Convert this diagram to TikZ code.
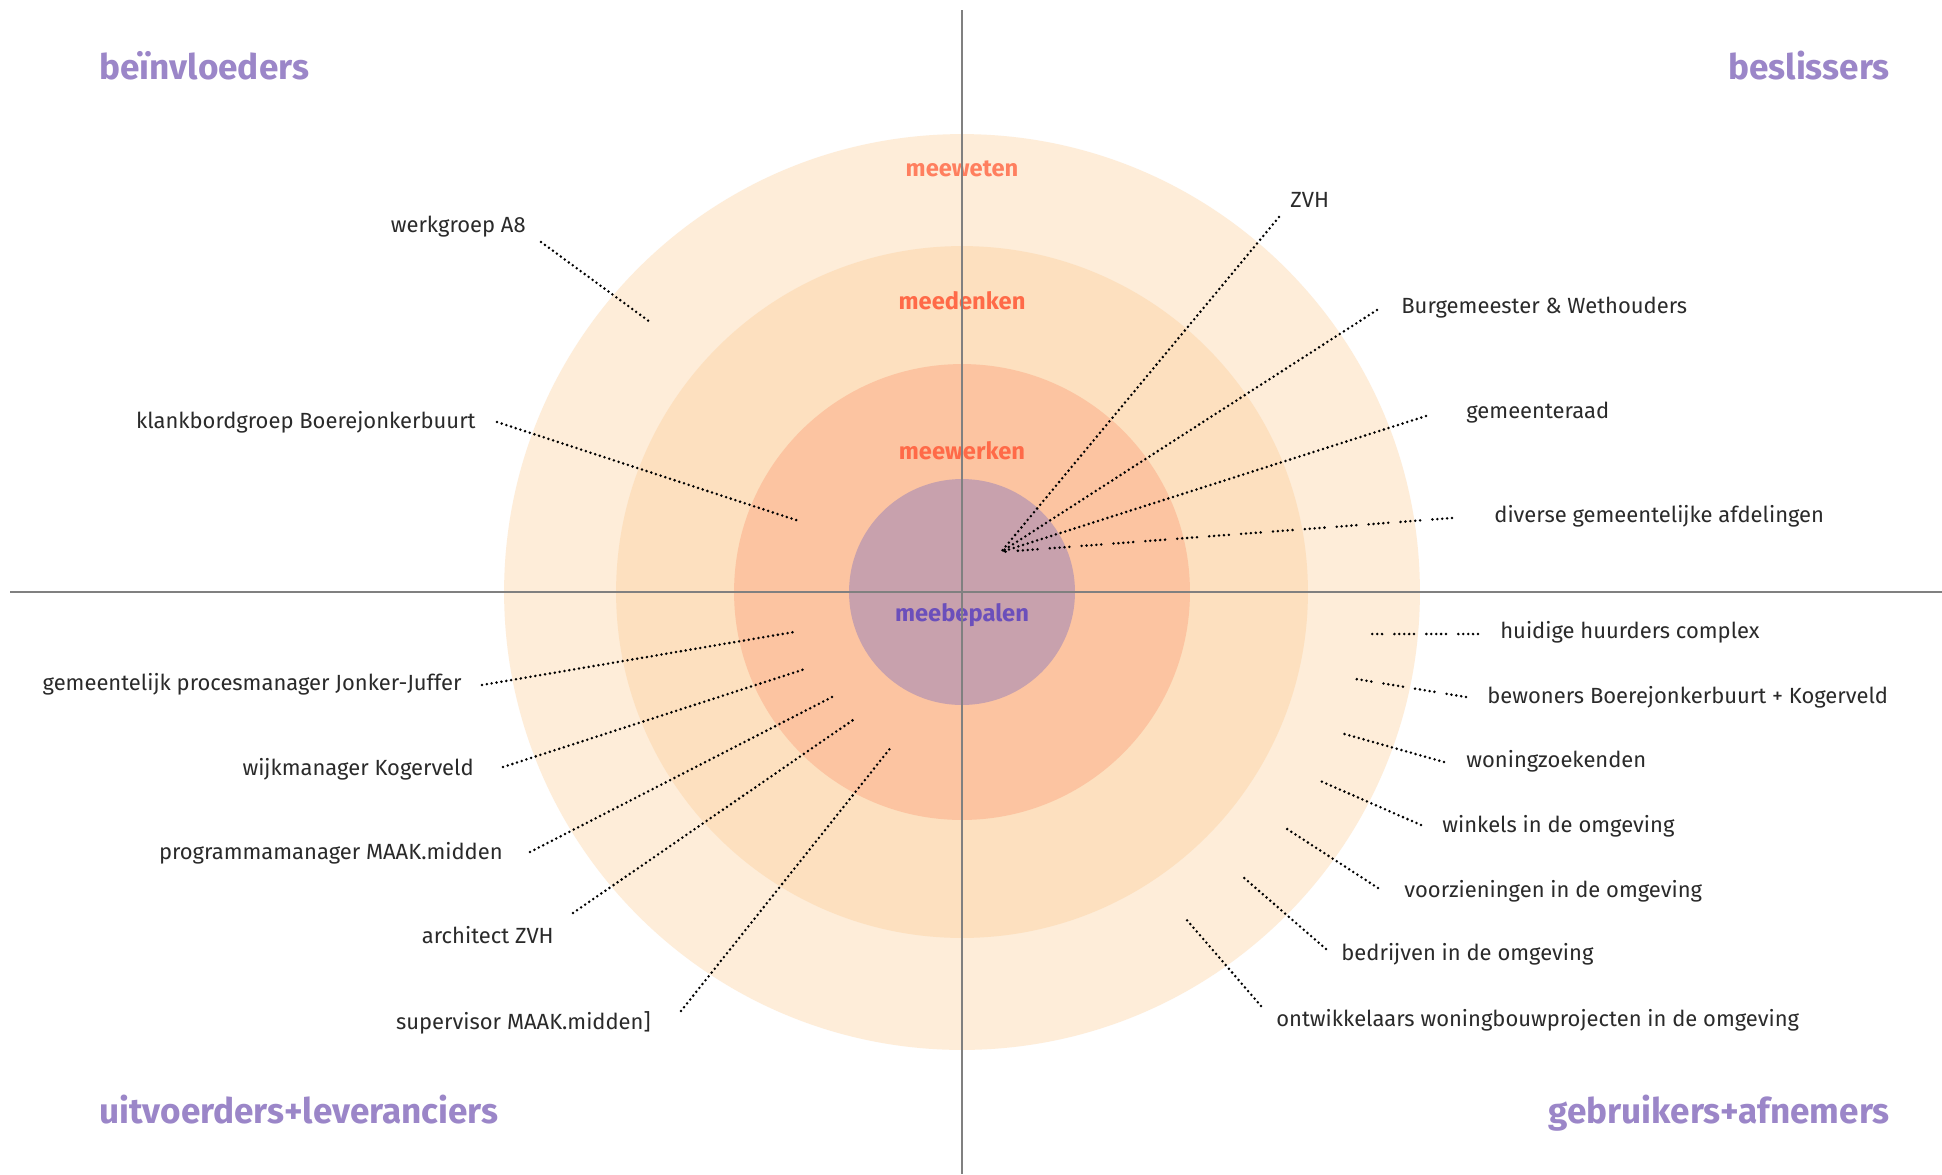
\documentclass[tikz,border=0pt]{standalone}
\usepackage{fontspec}
\setmainfont{Fira Sans}
\usepackage{tikz}
\usetikzlibrary{positioning}
\definecolor{ringout}{HTML}{FEEDD9}
\definecolor{ringmid}{HTML}{FDE0BF}
\definecolor{ringin}{HTML}{FCC4A1}
\definecolor{core}{HTML}{C8A1AD}
\definecolor{titlepurple}{HTML}{9B86C8}
\definecolor{corepurple}{HTML}{6B4FBB}
\definecolor{coral}{HTML}{FF6A48}
\definecolor{lightcoral}{HTML}{FF7F5F}
\definecolor{labelgrey}{HTML}{2A2A2A}
\definecolor{axisgrey}{HTML}{808080}

\begin{document}
\begin{tikzpicture}[x=0.02cm, y=-0.02cm,
  title node/.style={font=\bfseries\fontsize{20}{22}\selectfont, text=titlepurple, inner sep=0pt},
  ring node/.style={font=\bfseries\fontsize{13.5}{15}\selectfont, text=coral, inner sep=0pt, anchor=mid},
  main node/.style={font=\fontsize{12.5}{14}\selectfont, text=labelgrey, inner sep=0pt},
  leader/.style={line width=1.6pt, line cap=round, dash pattern=on 0pt off 2.8pt},
  gap leader/.style={leader, dash pattern=on 0pt off 2.8pt on 0pt off 2.8pt on 0pt off 2.8pt on 0pt off 2.8pt on 0pt off 7pt}]

\useasboundingbox (0,0) rectangle (1942,1174);
\fill[white] (0,0) rectangle (1942,1174);

\coordinate (O) at (962,592);
\fill[ringout] (O) circle[radius=9.16cm];
\fill[ringmid] (O) circle[radius=6.92cm];
\fill[ringin] (O) circle[radius=4.56cm];
\fill[core] (O) circle[radius=2.26cm];

\node[ring node, text=lightcoral] (meeweten) at (962,172) {meeweten};
\node[ring node] (meedenken) at (962,305) {meedenken};
\node[ring node] (meewerken) at (962,455) {meewerken};
\node[ring node, text=corepurple] (meebepalen) at (962,617) {meebepalen};

\draw[axisgrey, line width=1.1pt] (962,10) -- (962,1174);
\draw[axisgrey, line width=1.1pt] (10,592) -- (1942,592);

\node[title node, anchor=mid west] (beinvloeders) at (99,75) {beïnvloeders};
\node[title node, anchor=mid east] (beslissers) at (1890,75) {beslissers};
\node[title node, anchor=mid west] (uitvoerders) at (99,1119) {uitvoerders+leveranciers};
\node[title node, anchor=mid east] (gebruikers) at (1890,1119) {gebruikers+afnemers};

\node[main node, anchor=mid east] (werkgroep) at (526,228) {werkgroep A8};
\node[main node, anchor=mid east] (klankbord) at (476,424) {klankbordgroep Boerejonkerbuurt};
\node[main node, anchor=mid west] (zvh) at (1290,203) {ZVH};
\node[main node, anchor=mid west] (burgemeester) at (1401,309) {Burgemeester \& Wethouders};
\node[main node, anchor=mid west] (raad) at (1466,414) {gemeenteraad};
\node[main node, anchor=mid west] (afdelingen) at (1494,518) {diverse gemeentelijke afdelingen};
\node[main node, anchor=mid west] (huurders) at (1500,634) {huidige huurders complex};
\node[main node, anchor=mid west] (bewoners) at (1487,699) {bewoners Boerejonkerbuurt + Kogerveld};
\node[main node, anchor=mid west] (zoekenden) at (1466,763) {woningzoekenden};
\node[main node, anchor=mid west] (winkels) at (1442,828) {winkels in de omgeving};
\node[main node, anchor=mid west] (voorzieningen) at (1404,893) {voorzieningen in de omgeving};
\node[main node, anchor=mid west] (bedrijven) at (1341,956) {bedrijven in de omgeving};
\node[main node, anchor=mid west] (ontwikkelaars) at (1276,1022) {ontwikkelaars woningbouwprojecten in de omgeving};
\node[main node, anchor=mid east] (procesmanager) at (462,686) {gemeentelijk procesmanager Jonker-Juffer};
\node[main node, anchor=mid east] (wijkmanager) at (474,771) {wijkmanager Kogerveld};
\node[main node, anchor=mid east] (programma) at (503,855) {programmamanager MAAK.midden};
\node[main node, anchor=mid east] (architect) at (554,939) {architect ZVH};
\node[main node, anchor=mid east] (supervisor) at (651,1025) {supervisor MAAK.midden]};

\coordinate (hub) at (1001,552);
\coordinate (werkgroep-end) at (541,242);
\coordinate (werkgroep-tip) at (650,322);
\coordinate (klankbord-end) at (497,422);
\coordinate (klankbord-tip) at (799,521);
\coordinate (zvh-end) at (1279,217);
\coordinate (burgemeester-end) at (1377,310);
\coordinate (raad-end) at (1426,416);
\coordinate (afdelingen-end) at (1452,518);
\coordinate (huurders-end) at (1478,634);
\coordinate (huurders-tip) at (1370,634);
\coordinate (bewoners-end) at (1466,697);
\coordinate (bewoners-tip) at (1356,679);
\coordinate (zoekenden-end) at (1444,762);
\coordinate (zoekenden-tip) at (1341,733);
\coordinate (winkels-end) at (1421,825);
\coordinate (winkels-tip) at (1318,780);
\coordinate (voorzieningen-end) at (1378,888);
\coordinate (voorzieningen-tip) at (1284,827);
\coordinate (bedrijven-end) at (1326,949);
\coordinate (bedrijven-tip) at (1243,877);
\coordinate (ontwikkelaars-end) at (1261,1006);
\coordinate (ontwikkelaars-tip) at (1186,919);
\coordinate (procesmanager-end) at (482,685);
\coordinate (procesmanager-tip) at (794,632);
\coordinate (wijkmanager-end) at (503,767);
\coordinate (wijkmanager-tip) at (805,669);
\coordinate (programma-end) at (530,852);
\coordinate (programma-tip) at (836,695);
\coordinate (architect-end) at (573,913);
\coordinate (architect-tip) at (853,720);
\coordinate (supervisor-end) at (681,1011);
\coordinate (supervisor-tip) at (892,746);

\path[leader]
(werkgroep-end) edge (werkgroep-tip)
(klankbord-end) edge (klankbord-tip)
(zvh-end) edge (hub)
(burgemeester-end) edge (hub)
(raad-end) edge (hub)
(zoekenden-end) edge (zoekenden-tip)
(winkels-end) edge (winkels-tip)
(voorzieningen-end) edge (voorzieningen-tip)
(bedrijven-end) edge (bedrijven-tip)
(ontwikkelaars-end) edge (ontwikkelaars-tip)
(procesmanager-end) edge (procesmanager-tip)
(wijkmanager-end) edge (wijkmanager-tip)
(programma-end) edge (programma-tip)
(architect-end) edge (architect-tip)
(supervisor-end) edge (supervisor-tip)
;
\path[gap leader]
(afdelingen-end) edge (hub)
(huurders-end) edge (huurders-tip)
(bewoners-end) edge (bewoners-tip)
;
\end{tikzpicture}
\end{document}
